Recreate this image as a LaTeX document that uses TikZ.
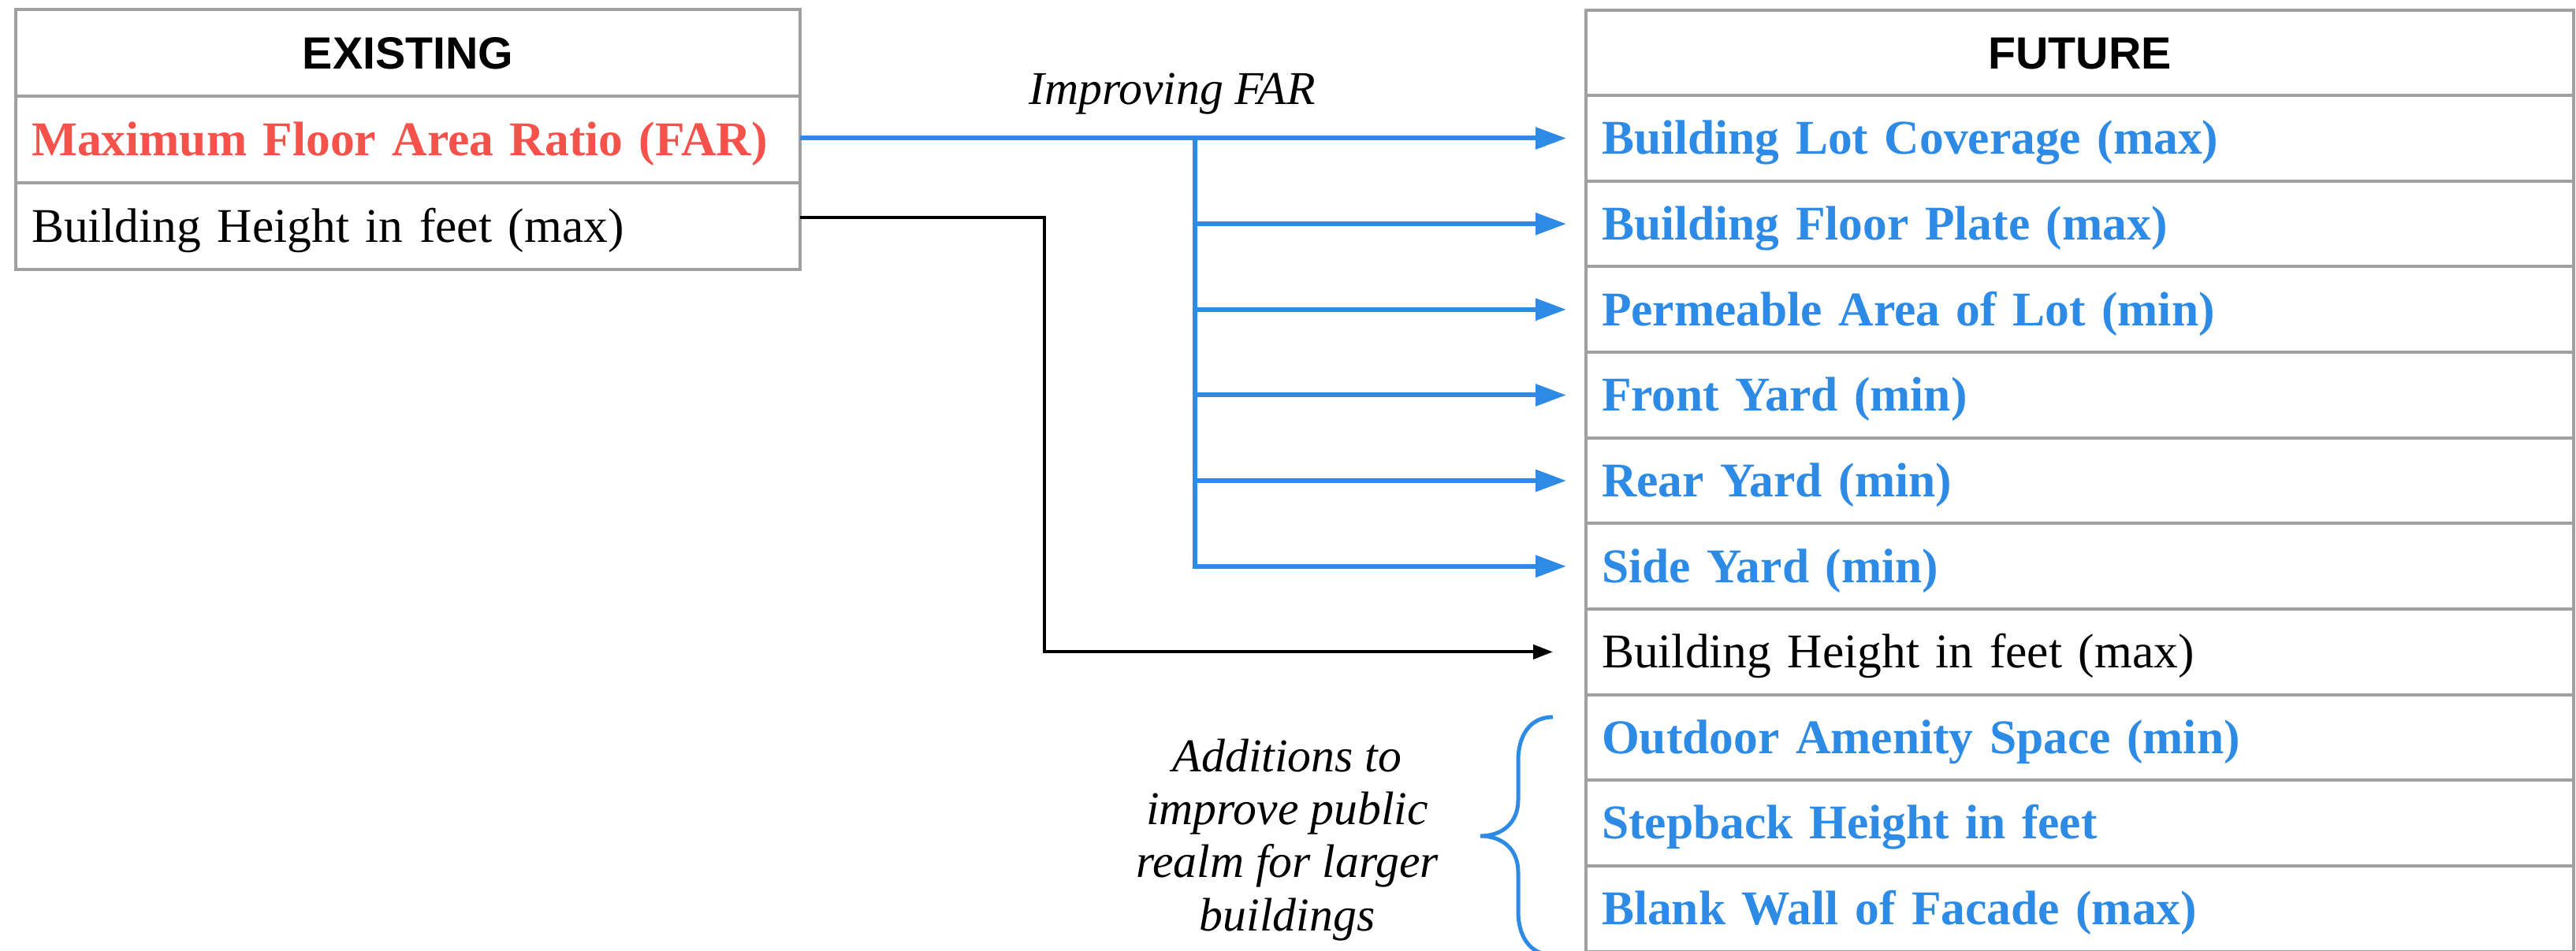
\documentclass[tikz,border=0pt]{standalone}
\usepackage{fontspec}
\setmainfont{Liberation Serif}
\setsansfont{Liberation Sans}
\usepackage{xcolor}
\usetikzlibrary{arrows.meta}
\usetikzlibrary{positioning}

\definecolor{farred}{HTML}{F4524B}
\definecolor{farblue}{HTML}{2E8BE5}
\definecolor{gridgrey}{HTML}{A0A0A0}

\newcommand{\cellfont}{\fontsize{17.5}{21}\selectfont}
\newcommand{\hdrfont}{\fontsize{16.3}{19}\selectfont\sffamily\bfseries}
\newcommand{\notefont}{\fontsize{17}{19.1}\selectfont\itshape}

\tikzset{
  cell/.style={draw=gridgrey, line width=0.04cm, outer sep=0pt,
    inner xsep=0.2cm, inner ysep=0pt, align=left,
    text height=14pt, text depth=2.45pt, font=\cellfont},
  leftcell/.style={cell, text width=9.55cm, minimum height=1.10cm},
  rightcell/.style={cell, text width=12.13cm, minimum height=1.0865cm},
  headcell/.style={align=center, font=\hdrfont},
  bluetext/.style={text=farblue, font=\cellfont\bfseries},
  note/.style={font=\notefont},
  bluearrow/.style={draw=farblue, line width=0.06cm,
    -{Triangle[length=0.39cm,width=0.27cm]}, shorten >=0.25cm},
  blackarrow/.style={draw=black, line width=0.04cm,
    -{Triangle[length=0.25cm,width=0.18cm]}, shorten >=0.42cm}
}

\begin{document}
\begin{tikzpicture}
\useasboundingbox (0,0) rectangle (32.68,-12.06);

% existing table
\node[leftcell, headcell, anchor=north west] (exhead) at (0.20,-0.12) {EXISTING};
\node[leftcell, below=0pt of exhead, text=farred, font=\cellfont\bfseries] (ex2) {Maximum Floor Area Ratio (FAR)};
\node[leftcell, below=0pt of ex2] (ex3) {Building Height in feet (max)};

% future table
\node[rightcell, headcell, anchor=north west] (fuhead) at (20.12,-0.125) {FUTURE};
\node[rightcell, bluetext, below=0pt of fuhead] (fu1) {Building Lot Coverage (max)};
\node[rightcell, bluetext, below=0pt of fu1] (fu2) {Building Floor Plate (max)};
\node[rightcell, bluetext, below=0pt of fu2] (fu3) {Permeable Area of Lot (min)};
\node[rightcell, bluetext, below=0pt of fu3] (fu4) {Front Yard (min)};
\node[rightcell, bluetext, below=0pt of fu4] (fu5) {Rear Yard (min)};
\node[rightcell, bluetext, below=0pt of fu5] (fu6) {Side Yard (min)};
\node[rightcell, below=0pt of fu6] (fu7) {Building Height in feet (max)};
\node[rightcell, bluetext, below=0pt of fu7] (fu8) {Outdoor Amenity Space (min)};
\node[rightcell, bluetext, below=0pt of fu8] (fu9) {Stepback Height in feet};
\node[rightcell, bluetext, below=0pt of fu9] (fu10) {Blank Wall of Facade (max)};

% FAR arrows
\node[note, anchor=base] (farlabel) at (14.87,-1.32) {Improving FAR};
\coordinate (trunk) at (15.16,0 |- fu1.west);
\draw[bluearrow] (ex2.east |- fu1.west) -- (fu1.west);
\draw[bluearrow] (trunk) |- (fu6.west);
\draw[bluearrow] (trunk |- fu2.west) -- (fu2.west);
\draw[bluearrow] (trunk |- fu3.west) -- (fu3.west);
\draw[bluearrow] (trunk |- fu4.west) -- (fu4.west);
\draw[bluearrow] (trunk |- fu5.west) -- (fu5.west);

% height arrow
\coordinate (hbend) at (13.25,-2.76);
\draw[blackarrow] (ex3.east |- hbend) -- (hbend) |- (fu7.west);

% brace
\draw[farblue, line width=0.05cm] (19.70,-9.10) .. controls (19.40,-9.10) and (19.26,-9.35) .. (19.26,-9.65)
  -- (19.26,-10.15) .. controls (19.26,-10.45) and (19.05,-10.61) .. (18.78,-10.61)
  .. controls (19.05,-10.61) and (19.26,-10.77) .. (19.26,-11.07)
  -- (19.26,-11.57) .. controls (19.26,-11.87) and (19.40,-12.12) .. (19.70,-12.12);
\node[note, align=center] (publicnote) at (16.33,-10.66) {Additions to\\improve public\\realm for larger\\buildings};
\end{tikzpicture}
\end{document}
